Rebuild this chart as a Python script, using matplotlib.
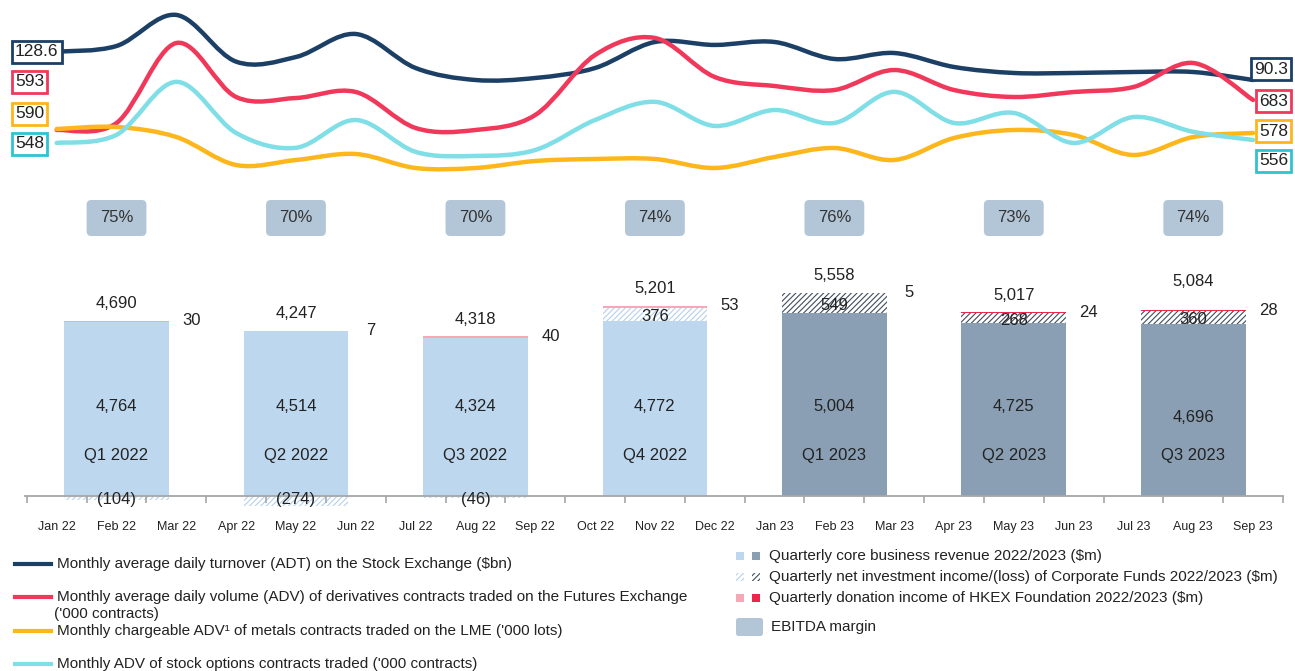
import numpy as np
import matplotlib.pyplot as plt
from matplotlib.path import Path
from matplotlib.patches import PathPatch, FancyBboxPatch, Rectangle
from matplotlib.lines import Line2D

plt.rcParams['font.family'] = ['Liberation Sans', 'DejaVu Sans']
plt.rcParams['hatch.linewidth'] = 0.8

# ---- data ----
months = ['Jan 22', 'Feb 22', 'Mar 22', 'Apr 22', 'May 22', 'Jun 22', 'Jul 22',
          'Aug 22', 'Sep 22', 'Oct 22', 'Nov 22', 'Dec 22', 'Jan 23', 'Feb 23',
          'Mar 23', 'Apr 23', 'May 23', 'Jun 23', 'Jul 23', 'Aug 23', 'Sep 23']
adt = [128.6, 136.3, 178.3, 115.1, 121.4, 152.5, 106.5, 90.3, 93.0, 106.5, 141.7,
       137.7, 141.7, 118.7, 126.8, 107.9, 99.8, 99.8, 101.1, 101.1, 90.3]
deriv_adv = [593, 614, 854, 692, 689, 707, 599, 593, 638, 818, 869, 752, 725, 713,
             773, 713, 692, 707, 722, 794, 683]
lme_adv = [590, 596, 566, 482, 497, 515, 473, 473, 494, 500, 500, 473, 506, 533,
           497, 563, 587, 572, 512, 566, 578]
options_adv = [548, 570, 713, 575, 535, 610, 524, 513, 529, 610, 659, 594, 637, 602,
               686, 602, 629, 548, 618, 578, 556]

quarters = ['Q1 2022', 'Q2 2022', 'Q3 2022', 'Q4 2022', 'Q1 2023', 'Q2 2023', 'Q3 2023']
quarter_month = [1, 4, 7, 10, 13, 16, 19]
core_rev = [4764, 4514, 4324, 4772, 5004, 4725, 4696]
invest_inc = [-104, -274, -46, 376, 549, 268, 360]
donation = [30, 7, 40, 53, 5, 24, 28]
ebitda = [75, 70, 70, 74, 76, 73, 74]
year_2023 = [False, False, False, False, True, True, True]

line_labels = [
    'Monthly average daily turnover (ADT) on the Stock Exchange ($bn)',
    'Monthly average daily volume (ADV) of derivatives contracts traded on the Futures Exchange',
    'Monthly chargeable ADV\u00b9 of metals contracts traded on the LME (\'000 lots)',
    'Monthly ADV of stock options contracts traded (\'000 contracts)',
]
bar_labels = [
    'Quarterly core business revenue 2022/2023 ($m)',
    'Quarterly net investment income/(loss) of Corporate Funds 2022/2023 ($m)',
    'Quarterly donation income of HKEX Foundation 2022/2023 ($m)',
]

# ---- style ----
NAVY, RED, ORANGE, CYAN = '#1c3f66', '#f0385b', '#fdb71d', '#7fdee6'
CYAN_BOX = '#2fc3cf'
CORE = {False: '#bdd7ee', True: '#8a9fb4'}
HATCH = {False: '#b3d1ec', True: '#3f4d5e'}
DON = {False: '#f5a9b6', True: '#e8294a'}
EBITDA_C = '#b3c6d7'
TXT = '#222222'

W, H = 1295, 671
fig = plt.figure(figsize=(W / 100, H / 100), dpi=100)


def fx(px):
    return px / W


def fy(py):
    return 1 - py / H


XLIM = (-0.53, 20.5)
x = np.arange(len(months))


def smooth_path(xs, ys):
    pts = np.column_stack([xs, ys]).astype(float)
    n = len(pts)
    verts, codes = [pts[0]], [Path.MOVETO]
    for i in range(n - 1):
        p0, p1 = pts[max(i - 1, 0)], pts[i]
        p2, p3 = pts[i + 1], pts[min(i + 2, n - 1)]
        verts += [p1 + (p2 - p0) / 6, p2 - (p3 - p1) / 6, p2]
        codes += [Path.CURVE4] * 3
    return Path(verts, codes)


# ---- top: smoothed monthly lines, each on its own scale ----
ax_top = fig.add_axes([fx(25), fy(190), 1258 / W, 190 / H])
series = [(adt, NAVY, (-58.5, 198.5)),
          (deriv_adv, RED, (413, 983)),
          (lme_adv, ORANGE, (407, 977)),
          (options_adv, CYAN, (421, 934))]
axes_top = [ax_top] + [ax_top.twinx() for _ in range(3)]
for a, (vals, col, lim) in zip(axes_top, series):
    a.set_xlim(*XLIM)
    a.set_ylim(*lim)
    a.axis('off')
    a.add_patch(PathPatch(smooth_path(x, vals), fc='none', ec=col, lw=3.2,
                          capstyle='round', joinstyle='round'))

# start / end value boxes
box_cols = [NAVY, RED, ORANGE, CYAN_BOX]
left_y = [52, 82, 114, 144]
right_y = [69, 101, 131, 161]
for (vals, _, _), bc, ly, ry in zip(series, box_cols, left_y, right_y):
    for val, px, py, ha in [(vals[0], 15, ly, 'left'), (vals[-1], 1288, ry, 'right')]:
        fig.text(fx(px), fy(py), f'{val:g}', ha=ha, va='center', fontsize=12.5,
                 color=TXT,
                 bbox=dict(boxstyle='square,pad=0.18', fc='white', ec=bc, lw=2))

# ---- EBITDA margin strip ----
ax_eb = fig.add_axes([fx(25), fy(236), 1258 / W, 36 / H])
ax_eb.set_xlim(*XLIM)
ax_eb.set_ylim(0, 1)
ax_eb.axis('off')
for m, e in zip(quarter_month, ebitda):
    ax_eb.add_patch(FancyBboxPatch((m - 0.5, 0), 1.0, 1.0,
                                   boxstyle='round,pad=0,rounding_size=0.08',
                                   mutation_aspect=1.66, fc=EBITDA_C, ec='none'))
    ax_eb.text(m, 0.5, f'{e}%', ha='center', va='center', fontsize=12, color='#333333')

# ---- bottom: quarterly revenue bars ----
ax = fig.add_axes([fx(25), fy(520), 1258 / W, 280 / H])
ax.set_xlim(*XLIM)
ax.set_ylim(-656, 6999)
bw = 1.75
for m, c, inv, d, y23, i in zip(quarter_month, core_rev, invest_inc, donation,
                                year_2023, range(len(quarters))):
    ax.bar(m, c, width=bw, color=CORE[y23], lw=0)
    inv_bottom = c if inv > 0 else 0
    ax.bar(m, inv, bottom=inv_bottom, width=bw, fc='white', ec=HATCH[y23],
           hatch='//////', lw=0)
    top = c + max(inv, 0)
    ax.bar(m, d, bottom=top, width=bw, color=DON[y23], lw=0)
    top += d
    total = c + inv + d
    pad = 790 if i == 6 else 465
    ax.text(m, top + pad, f'{total:,}', ha='center', va='center', fontsize=12, color=TXT)
    ax.text(m + bw / 2 + 0.38, top, f'{d}', ha='center', va='center', fontsize=12,
            color=TXT)
    ax.text(m, 2133 if i == 6 else 2460, f'{c:,}', ha='center', va='center',
            fontsize=12, color=TXT)
    ax.text(m, 1121, quarters[i], ha='center', va='center', fontsize=12, color=TXT)
    if inv > 0:
        ax.text(m, c + inv / 2 - 60, f'{inv:,}', ha='center', va='center',
                fontsize=12, color=TXT)
    else:
        ax.text(m, -90, f'({-inv:,})', ha='center', va='center', fontsize=12,
                color=TXT)

for s in ['top', 'left', 'right']:
    ax.spines[s].set_visible(False)
ax.spines['bottom'].set_position(('data', 0))
ax.spines['bottom'].set_color('#a6a6a6')
ax.spines['bottom'].set_linewidth(1.3)
ax.set_yticks([])
ax.set_xticks(np.arange(-0.5, 21, 1))
ax.set_xticklabels([])
ax.tick_params(axis='x', which='major', length=5, width=1.2, color='#a6a6a6')
ax.set_xticks(x, minor=True)
ax.set_xticklabels(months, minor=True)
ax.tick_params(axis='x', which='minor', length=0, pad=18, labelsize=9, labelcolor=TXT)

# ---- legends (left: lines) ----
leg_y = [564, 597, 631, 664]
for lab, (_, col, _), py in zip(line_labels, series, leg_y):
    fig.add_artist(Line2D([fx(15), fx(51)], [fy(py), fy(py)], color=col, lw=3,
                          transform=fig.transFigure))
    fig.text(fx(57), fy(py), lab, ha='left', va='center', fontsize=11, color=TXT)
fig.text(fx(54), fy(614), "('000 contracts)", ha='left', va='center', fontsize=11,
         color=TXT)

# ---- legends (right: bars) ----
sq = 8
for j, (lab, py) in enumerate(zip(bar_labels, [556, 577, 598])):
    for k, y23 in enumerate([False, True]):
        x0 = 736 + 16 * k
        if j == 0:
            kw = dict(fc=CORE[y23], ec='none')
        elif j == 1:
            kw = dict(fc='white', ec=HATCH[y23], hatch='//////', lw=0)
        else:
            kw = dict(fc=DON[y23], ec='none')
        fig.add_artist(Rectangle((fx(x0), fy(py + sq / 2)), sq / W, sq / H,
                                 transform=fig.transFigure, **kw))
    fig.text(fx(769), fy(py), lab, ha='left', va='center', fontsize=11, color=TXT)
fig.add_artist(FancyBboxPatch((fx(736), fy(636)), 27 / W, 18 / H,
                              boxstyle='round,pad=0,rounding_size=0.002',
                              mutation_aspect=W / H, fc=EBITDA_C, ec='none',
                              transform=fig.transFigure))
fig.text(fx(771), fy(627), 'EBITDA margin', ha='left', va='center', fontsize=11,
         color=TXT)

fig.savefig('out.png', dpi=100)
